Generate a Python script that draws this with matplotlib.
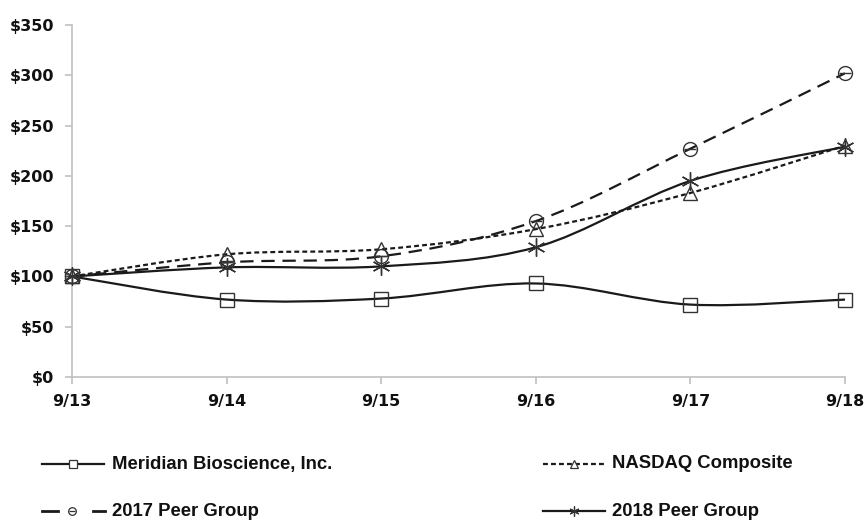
import numpy as np
import matplotlib.pyplot as plt
from matplotlib.path import Path
from matplotlib.patches import PathPatch
from matplotlib.lines import Line2D

plt.rcParams['font.family'] = ['Liberation Sans', 'DejaVu Sans']
plt.rcParams['font.weight'] = 'bold'

periods = ["9/13", "9/14", "9/15", "9/16", "9/17", "9/18"]
meridian = [100, 77, 78, 93, 72, 77]
nasdaq = [100, 122, 127, 147, 183, 230]
peer_2017 = [100, 114, 120, 155, 227, 302]
peer_2018 = [100, 109, 110, 129, 195, 229]

ink = "#1a1a1a"
mark = "#333333"
axis_grey = "#c0c0c0"


def smooth_path(xs, ys):
    # Catmull-Rom style curve through the points, as cubic Bezier segments
    pts = np.column_stack([xs, ys]).astype(float)
    ext = np.vstack([pts[0], pts, pts[-1]])
    verts = [pts[0]]
    codes = [Path.MOVETO]
    for i in range(len(pts) - 1):
        p0, p1, p2, p3 = ext[i], ext[i + 1], ext[i + 2], ext[i + 3]
        c1 = p1 + (p2 - p0) / 6.0
        c2 = p2 - (p3 - p1) / 6.0
        verts += [c1, c2, p2]
        codes += [Path.CURVE4] * 3
    return Path(verts, codes)


fig = plt.figure(figsize=(8.66, 5.21), dpi=100)
ax = fig.add_axes([72 / 866, 1 - 377 / 521, (845 - 72) / 866, (377 - 25) / 521])

x = np.arange(len(periods))

series = [
    ("Meridian Bioscience, Inc.", meridian, "-", dict(marker="s", ms=10), 1.6),
    ("NASDAQ Composite", nasdaq, (0, (2.2, 1.4)), dict(marker="^", ms=10), 1.6),
    ("2017 Peer Group", peer_2017, (0, (6, 3.5)), dict(marker="o", ms=10), 1.6),
    ("2018 Peer Group", peer_2018, "-", dict(marker=(6, 2, 0), ms=13), 1.6),
]

for name, vals, ls, mk, lw in series:
    patch = PathPatch(smooth_path(x, vals), fill=False, edgecolor=ink,
                      linestyle=ls, linewidth=lw, transform=ax.transData,
                      zorder=2)
    ax.add_patch(patch)
    ax.plot(x, vals, linestyle="none", marker=mk["marker"], ms=mk["ms"],
            mfc="none", mec=mark, mew=1.0, zorder=3, clip_on=False)
    if name == "2017 Peer Group":
        ax.plot(x, vals, linestyle="none", marker="_", ms=9, mec=mark,
                mew=1.0, zorder=3, clip_on=False)

ax.set_xlim(0, len(periods) - 1)
ax.set_ylim(0, 350)
ax.set_xticks(x)
ax.set_xticklabels(periods)
yt = np.arange(0, 351, 50)
ax.set_yticks(yt)
ax.set_yticklabels([f"${v}" for v in yt])

for s in ["top", "right"]:
    ax.spines[s].set_visible(False)
for s in ["left", "bottom"]:
    ax.spines[s].set_color(axis_grey)
    ax.spines[s].set_linewidth(1.2)
ax.tick_params(axis="both", colors=axis_grey, labelcolor="#111111",
               length=5, width=1.2)
ax.tick_params(axis="y", pad=8)
ax.tick_params(axis="x", pad=7)
for lab in ax.get_xticklabels() + ax.get_yticklabels():
    lab.set_fontfamily("DejaVu Sans")
    lab.set_fontweight("bold")
    lab.set_fontsize(11.5)

# legend entries laid out in two rows below the plot
legend_spots = [(42, 104, 464), (543, 605, 464), (42, 105, 511), (543, 605, 511)]
for (name, vals, ls, mk, lw), (x0, x1, yp) in zip(series, legend_spots):
    fy = 1 - yp / 521
    xm = (x0 + x1) / 2 / 866
    if name == "2017 Peer Group":
        # dash, marker, dash
        for a, b in [(x0, x0 + 16), (x1 - 12, x1)]:
            fig.add_artist(Line2D([a / 866, b / 866], [fy, fy], color=ink,
                                  linewidth=lw + 0.4))
        xm = 72 / 866
    else:
        fig.add_artist(Line2D([x0 / 866, x1 / 866], [fy, fy], color=ink,
                              linestyle=ls, linewidth=lw))
    fig.add_artist(Line2D([xm], [fy], linestyle="none", marker=mk["marker"],
                          ms=mk["ms"] * 0.55, mfc="white", mec=mark, mew=0.9))
    if name == "2017 Peer Group":
        fig.add_artist(Line2D([xm], [fy], linestyle="none", marker="_",
                              ms=5, mec=mark, mew=0.9))
    fig.text(112 / 866 if x0 < 300 else 612 / 866, fy, name, fontsize=13.3,
             fontweight="bold", color="#111111", va="center", ha="left")

fig.savefig("out.png", dpi=100, facecolor="white")
